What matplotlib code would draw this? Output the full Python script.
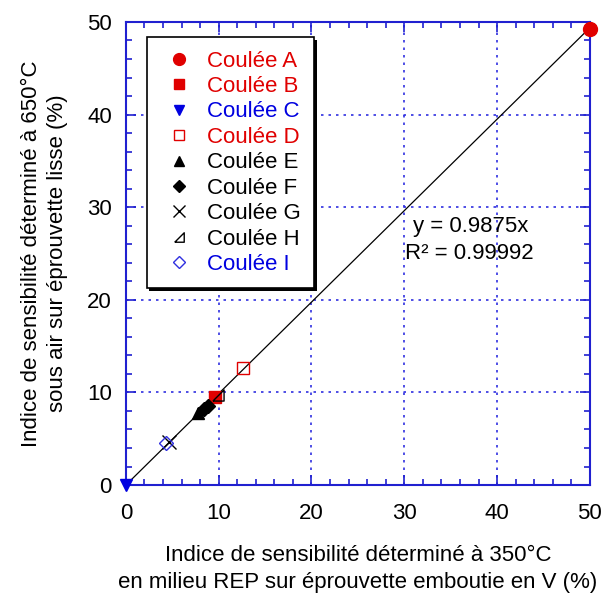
import numpy as np
import matplotlib.pyplot as plt
from matplotlib.ticker import MultipleLocator

plt.rcParams['font.family'] = ['Liberation Sans', 'DejaVu Sans']

labels = ['Coulée A', 'Coulée B', 'Coulée C', 'Coulée D', 'Coulée E',
          'Coulée F', 'Coulée G', 'Coulée H', 'Coulée I']
xs = [[50.0], [9.6], [0.0], [12.6], [7.8], [8.4, 8.8], [4.7], [9.9], [4.3]]
ys = [[49.2], [9.5], [0.0], [12.6], [7.8], [8.2, 8.5], [4.6], [9.7], [4.5]]
slope = 0.9875

# right-angle triangle used for Coulée H
tri_h = [(-1, -1), (1, -1), (1, 1), (-1, -1)]
markers = ['o', 's', 'v', 's', '^', 'D', 'x', tri_h, 'D']
colors = ['#e00000', '#e00000', '#0000e0', '#e00000', 'black', 'black', 'black', 'black', '#3030e0']
filled = [True, True, True, False, True, True, True, False, False]
sizes = [10, 9, 8, 9, 8, 7, 10, 8, 7]
text_col = ['#e00000', '#e00000', '#0000e0', '#e00000', 'black', 'black', 'black', 'black', '#0000e0']

fig = plt.figure(figsize=(6.05, 5.93), dpi=100)
ax = fig.add_axes([0.208, 0.182, 0.767, 0.781])

xl = np.array([0, 50])
ax.plot(xl, slope * xl, color='black', lw=0.9, zorder=2)

for i in range(len(labels)):
    fc = colors[i] if filled[i] else 'none'
    ax.plot(xs[i], ys[i], linestyle='none', marker=markers[i], ms=sizes[i],
            mfc=fc, mec=colors[i], mew=1.0, label=labels[i], zorder=3, clip_on=False)

ax.set_xlim(0, 50)
ax.set_ylim(0, 50)
ax.xaxis.set_major_locator(MultipleLocator(10))
ax.yaxis.set_major_locator(MultipleLocator(10))
ax.xaxis.set_minor_locator(MultipleLocator(2))
ax.yaxis.set_minor_locator(MultipleLocator(2))
ax.grid(True, which='major', color='#3030e0', linestyle=(0, (1.5, 3)), lw=1.2)
for s in ax.spines.values():
    s.set_color('#2020d0')
    s.set_linewidth(1.5)
ax.tick_params(which='both', direction='in', top=True, right=True, color='#2020d0',
               labelsize=16, pad=10)
ax.tick_params(axis='x', which='both', pad=13)
ax.tick_params(which='major', length=7, width=1.2)
ax.tick_params(which='minor', length=4, width=1.2)

ax.set_xlabel('Indice de sensibilité déterminé à 350°C\nen milieu REP sur éprouvette emboutie en V (%)',
              fontsize=16, labelpad=15, linespacing=1.4)
ax.set_ylabel('Indice de sensibilité déterminé à 650°C\nsous air sur éprouvette lisse (%)',
              fontsize=16, labelpad=14, linespacing=1.3)

ax.text(30.9, 27.3, 'y = 0.9875x', fontsize=16)
ax.text(30.1, 24.4, 'R² = 0.99992', fontsize=16)

leg = ax.legend(loc='upper left', bbox_to_anchor=(0.045, 0.967), fontsize=16,
                frameon=True, fancybox=False, edgecolor='black', labelspacing=0.2,
                handletextpad=0.4, borderpad=0.6, handlelength=1.7, borderaxespad=0,
                markerscale=0.85,
                shadow={'color': 'black', 'alpha': 1.0, 'linewidth': 0}, framealpha=1)
leg.get_frame().set_linewidth(1.2)
for t, c in zip(leg.get_texts(), text_col):
    t.set_color(c)

fig.savefig('out.png', dpi=100)
